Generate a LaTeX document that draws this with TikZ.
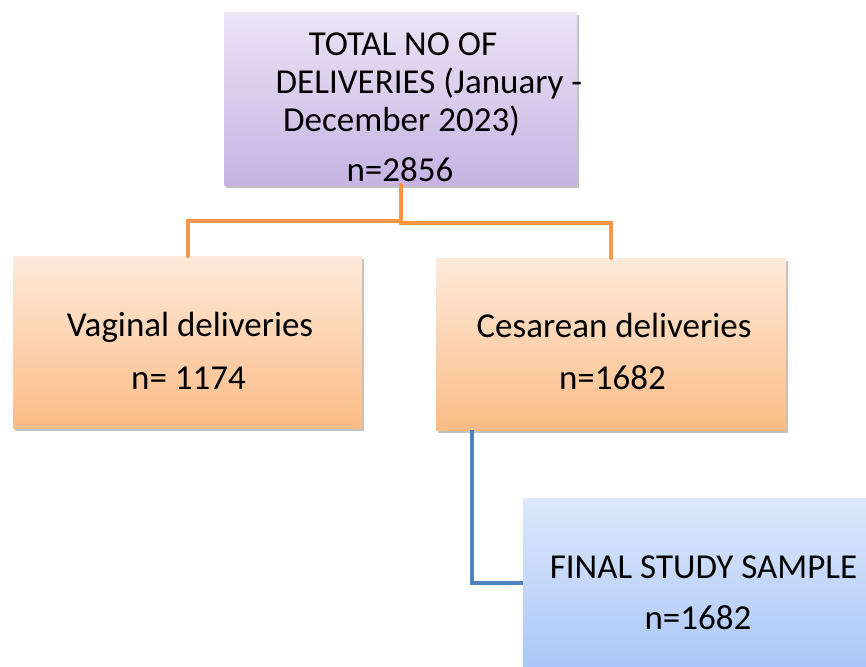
\documentclass[tikz,border=0pt]{standalone}
\usepackage{fontspec}
\setmainfont{Carlito}
\usetikzlibrary{shadows}
\definecolor{purpTop}{HTML}{EBE4F5}
\definecolor{purpBot}{HTML}{C6B3E3}
\definecolor{orTop}{HTML}{FDEADB}
\definecolor{orBot}{HTML}{FBBC86}
\definecolor{blTop}{HTML}{DDE8FB}
\definecolor{blBot}{HTML}{A4C2F6}
\definecolor{orLine}{HTML}{F79646}
\definecolor{blLine}{HTML}{4F81BD}
\begin{document}
\begin{tikzpicture}[x=1pt,y=-1pt,
  boxbase/.style={draw=none,inner sep=0,outer sep=0,
    drop shadow={shadow xshift=1.5pt,shadow yshift=-2.5pt,opacity=0.35,fill=black!70}},
  purpbox/.style={boxbase,top color=purpTop,bottom color=purpBot},
  orbox/.style={boxbase,top color=orTop,bottom color=orBot},
  blbox/.style={boxbase,top color=blTop,bottom color=blBot},
  txt/.style={anchor=base,inner sep=0,font=\fontsize{35}{39}\selectfont},
  orconn/.style={draw=orLine,line width=4pt},
  blconn/.style={draw=blLine,line width=4pt}]
\useasboundingbox (0,0) rectangle (866,666);
% boxes
\path[purpbox] (224,13) rectangle (577,185);
\coordinate (topS) at (400.5,185);
\path[orbox] (13,256) rectangle (362,428);
\coordinate (leftN) at (187.5,256);
\path[orbox] (436,258) rectangle (786,430);
\coordinate (rightN) at (611,258);
\coordinate (rightSW) at (472,430);
\path[blbox] (523,498) rectangle (880,690);
\coordinate (finalW) at (523,583);
% connectors
\draw[orconn,line cap=round] (topS) -- (400.5,221) -| (leftN);
\draw[orconn,line cap=round] (topS) -- (400.5,223) -| (rightN);
\draw[blconn] (rightSW) |- (finalW);
% texts
\node[txt] (t1) at (403,56) {TOTAL NO OF};
\node[txt] (t2) at (429,94) {DELIVERIES (January -};
\node[txt] (t3) at (401.5,131) {December 2023)};
\node[txt] (t4) at (400,181) {n=2856};
\node[txt] (v1) at (190,336) {Vaginal deliveries};
\node[txt] (v2) at (188.5,389) {n= 1174};
\node[txt] (c1) at (614,337) {Cesarean deliveries};
\node[txt] (c2) at (612.5,389) {n=1682};
\node[txt] (f1) at (703.5,578) {FINAL STUDY SAMPLE};
\node[txt] (f2) at (698,629) {n=1682};
\end{tikzpicture}
\end{document}
